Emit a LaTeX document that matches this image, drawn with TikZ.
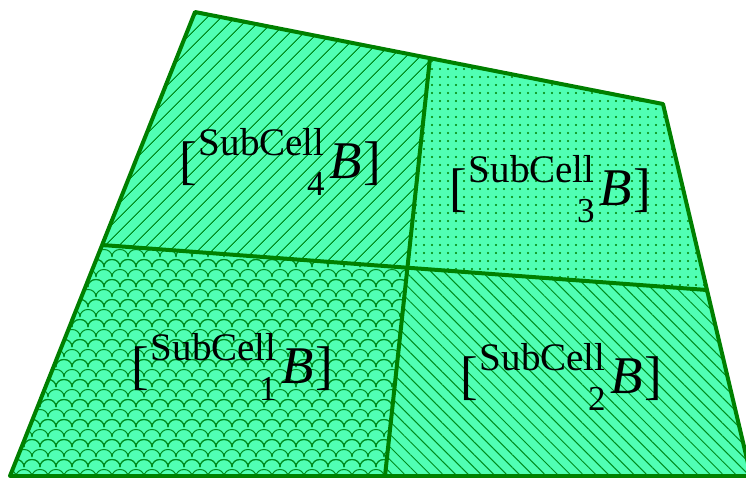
\documentclass[tikz,border=0pt]{standalone}
\usepackage{fontspec}
\setmainfont{Liberation Serif}
\usetikzlibrary{patterns.meta}
\definecolor{cmint}{RGB}{80,255,180}
\definecolor{cedge}{RGB}{0,128,0}
\definecolor{chatch}{RGB}{0,140,30}
% scale-like tiling for the lower left cell
\pgfdeclarepattern{name=scales, type=uncolored,
  bottom left={\pgfpoint{-9pt}{-1pt}}, top right={\pgfpoint{25pt}{21pt}},
  tile size={\pgfpoint{16pt}{20pt}},
  code={
    \pgfsetlinewidth{1pt}
    \pgfpathmoveto{\pgfpoint{0pt}{0pt}}
    \pgfpathcurveto{\pgfpoint{0pt}{10pt}}{\pgfpoint{16pt}{10pt}}{\pgfpoint{16pt}{0pt}}
    \pgfpathmoveto{\pgfpoint{-8pt}{10pt}}
    \pgfpathcurveto{\pgfpoint{-8pt}{20pt}}{\pgfpoint{8pt}{20pt}}{\pgfpoint{8pt}{10pt}}
    \pgfpathmoveto{\pgfpoint{8pt}{10pt}}
    \pgfpathcurveto{\pgfpoint{8pt}{20pt}}{\pgfpoint{24pt}{20pt}}{\pgfpoint{24pt}{10pt}}
    \pgfusepath{stroke}}}
\tikzset{cellfill/.style={fill=cmint},
         celledge/.style={cedge,line width=4pt,line join=round},
         hatchne/.style={pattern={Lines[angle=45,distance=10.5pt,line width=1pt]},pattern color=chatch},
         hatchnw/.style={pattern={Lines[angle=-45,distance=9pt,line width=1pt]},pattern color=chatch},
         dotted cell/.style={pattern={Dots[distance=8pt,radius=1.2pt]},pattern color=cedge},
         scaled cell/.style={pattern=scales,pattern color=chatch},
         cellname/.style={inner sep=0pt,font=\fontsize{53}{53}\selectfont}}
\newcommand\subcellB[1]{[\kern2pt\hbox{\setbox0\hbox{\fontsize{39}{39}\selectfont SubCell}%
  \rlap{\raisebox{23pt}{\copy0}}\hbox to\wd0{\hfill\raisebox{-17pt}{\fontsize{35}{35}\selectfont #1}}}%
  \kern5pt\textit{B}\kern1pt]}

\begin{document}
\begin{tikzpicture}[x=1pt,y=-1pt]
    \useasboundingbox (0,0) rectangle (746,477);
    \clip (0,0) rectangle (746,477);
    % corners and edge points
    \coordinate (tl) at (195,12);   \coordinate (tm) at (430,58);
    \coordinate (tr) at (663,104);  \coordinate (ml) at (102,245);
    \coordinate (mm) at (407,268);  \coordinate (mr) at (707,290);
    \coordinate (bl) at (10,476);   \coordinate (bm) at (385,476);
    \coordinate (br) at (751,476);
    % cells
    \foreach \a/\b/\c/\d/\p in {tl/tm/mm/ml/hatchne, tm/tr/mr/mm/dotted cell,
                                ml/mm/bm/bl/scaled cell, mm/mr/br/bm/hatchnw} {
      \fill[cellfill] (\a) -- (\b) -- (\c) -- (\d) -- cycle;
      \path[\p] (\a) -- (\b) -- (\c) -- (\d) -- cycle;
    }
    \draw[celledge] (tl) -- (tr) -- (br) -- (bl) -- cycle;
    \draw[celledge] (ml) -- (mr);
    \draw[celledge] (tm) -- (bm);
    % labels
    \node[cellname,anchor=base] (sub4) at (280,178) {\subcellB{4}};
    \node[cellname,anchor=base] (sub3) at (550,205) {\subcellB{3}};
    \node[cellname,anchor=base] (sub1) at (232,383) {\subcellB{1}};
    \node[cellname,anchor=base] (sub2) at (561,393) {\subcellB{2}};
  \end{tikzpicture}
\end{document}
